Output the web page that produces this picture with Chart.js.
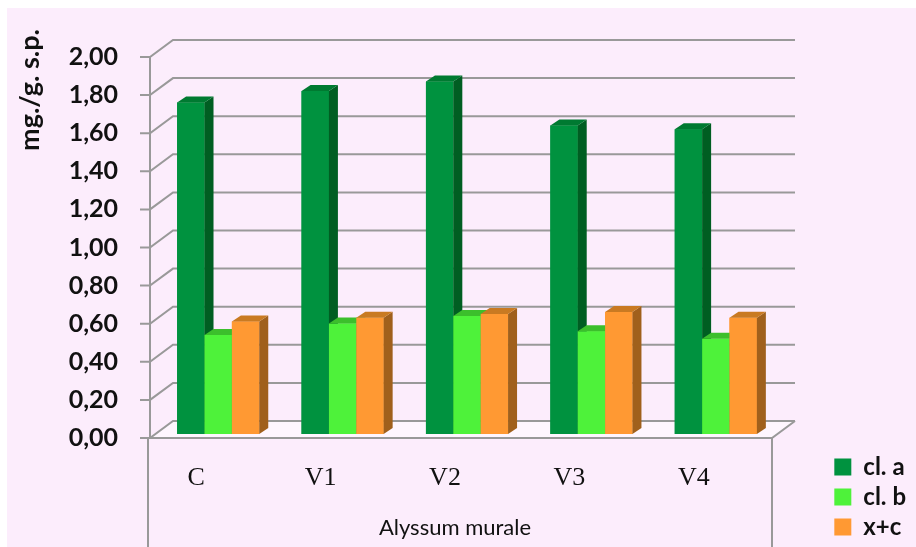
<!DOCTYPE html>
<html><head><meta charset="utf-8">
<script src="https://cdn.jsdelivr.net/npm/chart.js@4.4.1/dist/chart.umd.min.js"></script>
<style>html,body{margin:0;padding:0;background:#fff;}canvas{display:block;}</style>
</head><body>
<canvas id="c" width="916" height="547"></canvas>
<script>
// ---- data ----
const categories = ['C', 'V1', 'V2', 'V3', 'V4'];
const seriesNames = ['cl. a', 'cl. b', 'x+c'];
const clA = [1.74, 1.80, 1.85, 1.62, 1.60];
const clB = [0.52, 0.58, 0.62, 0.54, 0.50];
const xPlusC = [0.59, 0.61, 0.63, 0.64, 0.61];
const yMin = 0, yMax = 2, yStep = 0.2;
const yTitle = 'mg./g. s.p.';
const xTitle = 'Alyssum murale';

// ---- styles ----
const BG = '#FCEDFC';
const FLOOR = '#FEF6FE';
const GRID = '#999999';
const frontColors = ['#00923F', '#4EF23A', '#FF9933'];
const topColors = ['#007A31', '#3CBF2C', '#C97A22'];
const sideColors = ['#005E22', '#34A827', '#A0601C'];
const FRONT_DX = -6, FRONT_DY = 4;   // front plane vs bar plane
const DEPTH_DX = 23, DEPTH_DY = 17;  // wall depth
const BAR_DX = 9, BAR_DY = 6;        // bar depth

const frame3d = {
  id: 'frame3d',
  beforeDraw(chart) {
    const ctx = chart.ctx;
    ctx.save();
    ctx.fillStyle = '#fff';
    ctx.fillRect(0, 0, chart.width, chart.height);
    ctx.fillStyle = BG;
    ctx.fillRect(7, 8, chart.width - 7, chart.height - 8);
    ctx.restore();
  },
  beforeDatasetsDraw(chart) {
    const {ctx, chartArea: a, scales: {y}} = chart;
    const fl = a.left + FRONT_DX, fr = a.right + FRONT_DX;
    const fb = a.bottom + FRONT_DY, ft = a.top + FRONT_DY;
    ctx.save();
    ctx.fillStyle = FLOOR;
    ctx.beginPath();
    ctx.moveTo(fl, fb); ctx.lineTo(fr, fb);
    ctx.lineTo(fr + DEPTH_DX, fb - DEPTH_DY); ctx.lineTo(fl + DEPTH_DX, fb - DEPTH_DY);
    ctx.closePath(); ctx.fill();
    ctx.strokeStyle = GRID; ctx.lineWidth = 2;
    y.ticks.forEach(t => {
      const yf = y.getPixelForValue(t.value) + FRONT_DY;
      ctx.beginPath();
      ctx.moveTo(fl - 10, yf); ctx.lineTo(fl, yf);
      ctx.lineTo(fl + DEPTH_DX, yf - DEPTH_DY);
      ctx.lineTo(fr + DEPTH_DX, yf - DEPTH_DY);
      ctx.stroke();
    });
    ctx.beginPath(); ctx.moveTo(fl, ft); ctx.lineTo(fl, fb); ctx.stroke();
    ctx.beginPath();
    ctx.moveTo(fl, fb); ctx.lineTo(fr, fb); ctx.lineTo(fr + DEPTH_DX, fb - DEPTH_DY);
    ctx.stroke();
    ctx.beginPath();
    ctx.moveTo(fl - 2, fb); ctx.lineTo(fl - 2, chart.height);
    ctx.moveTo(fr, fb); ctx.lineTo(fr, chart.height);
    ctx.stroke();
    ctx.restore();
  },
  afterDatasetsDraw(chart) {
    const ctx = chart.ctx;
    ctx.save();
    for (let i = 0; i < chart.data.datasets.length; i++) {
      const meta = chart.getDatasetMeta(i);
      meta.data.forEach(bar => {
        bar.draw(ctx);
        const {x, y, base, width} = bar.getProps(['x', 'y', 'base', 'width'], true);
        const l = x - width / 2, r = x + width / 2;
        ctx.fillStyle = sideColors[i];
        ctx.beginPath();
        ctx.moveTo(r, y); ctx.lineTo(r + BAR_DX, y - BAR_DY);
        ctx.lineTo(r + BAR_DX, base - BAR_DY); ctx.lineTo(r, base);
        ctx.closePath(); ctx.fill();
        ctx.fillStyle = topColors[i];
        ctx.beginPath();
        ctx.moveTo(l, y); ctx.lineTo(l + BAR_DX, y - BAR_DY);
        ctx.lineTo(r + BAR_DX, y - BAR_DY); ctx.lineTo(r, y);
        ctx.closePath(); ctx.fill();
      });
    }
    ctx.restore();
  },
  afterDraw(chart) {
    const ctx = chart.ctx;
    ctx.save();
    ctx.fillStyle = '#111';
    ctx.textAlign = 'center';
    ctx.textBaseline = 'middle';
    ctx.font = 'bold 27px Lato';
    ctx.translate(30, 90);
    ctx.rotate(-Math.PI / 2);
    ctx.fillText(yTitle, 0, 0);
    ctx.restore();
    ctx.save();
    ctx.fillStyle = '#111';
    ctx.textAlign = 'center';
    ctx.textBaseline = 'middle';
    ctx.font = '22px Lato';
    ctx.fillText(xTitle, 455, 528);
    ctx.restore();
  }
};

const seriesValues = [clA, clB, xPlusC];
new Chart(document.getElementById('c'), {
  type: 'bar',
  data: {
    labels: categories,
    datasets: seriesNames.map((name, i) => ({
      label: name,
      data: seriesValues[i],
      backgroundColor: frontColors[i],
      borderWidth: 0,
      barPercentage: 1,
      categoryPercentage: 0.66
    }))
  },
  options: {
    responsive: false,
    animation: false,
    devicePixelRatio: 1,
    layout: {padding: {left: 0, top: 46, right: 0, bottom: 2}},
    plugins: {
      tooltip: {enabled: false},
      legend: {
        position: 'right',
        align: 'end',
        fullSize: true,
        labels: {
          boxWidth: 17, boxHeight: 17, padding: 6,
          color: '#111',
          font: {family: 'Lato', size: 24, weight: 'bold'},
          sort: (a, b) => a.datasetIndex - b.datasetIndex
        }
      }
    },
    scales: {
      x: {
        grid: {display: false, drawTicks: false},
        border: {display: false},
        ticks: {
          color: '#111', padding: 29, labelOffset: -22, maxRotation: 0, autoSkip: false,
          font: {family: "'Liberation Serif', 'Times New Roman', serif", size: 26}
        },
        afterFit: s => { s.height = 111; }
      },
      y: {
        min: yMin, max: yMax,
        grid: {display: false, drawTicks: false},
        border: {display: false},
        ticks: {
          stepSize: yStep, padding: 38, labelOffset: 4, color: '#111',
          font: {family: 'Lato', size: 25, weight: 'bold'},
          callback: v => Number(v).toFixed(2).replace('.', ',')
        },
        afterFit: s => { s.width = 156; }
      },
      gap: {
        position: 'right', display: true,
        grid: {display: false, drawTicks: false},
        border: {display: false},
        ticks: {display: false},
        afterFit: s => {
          const lw = s.chart.legend ? s.chart.legend.width : 85;
          s.width = Math.max(0, s.chart.width - lw - 778);
        }
      }
    }
  },
  plugins: [frame3d]
});
</script>
</body></html>
